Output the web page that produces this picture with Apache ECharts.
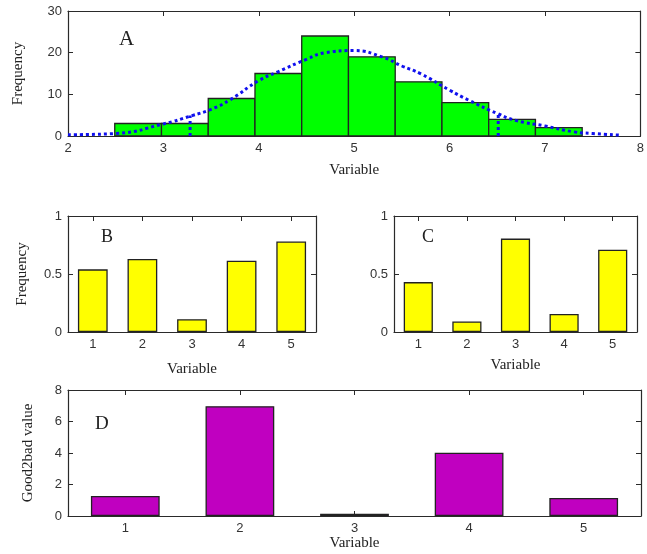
<!DOCTYPE html>
<html>
<head>
<meta charset="utf-8">
<script src="https://cdn.jsdelivr.net/npm/echarts@6/dist/echarts.min.js"></script>
<style>
  html, body { margin: 0; padding: 0; background: #fff; }
  #chart { width: 647px; height: 554px; }
</style>
</head>
<body>
<div id="chart"></div>
<script>
// panel A: histogram
const binEdges = [2.49, 2.98, 3.47, 3.96, 4.45, 4.94, 5.43, 5.92, 6.41, 6.90, 7.39]
const binCounts = [3, 3, 9, 15, 24, 19, 13, 8, 4, 2]
// fitted curve (dotted)
const curveX = [2.0, 2.5, 3.0, 3.3, 3.5, 3.7, 4.0, 4.2, 4.5, 4.7, 5.0, 5.3, 5.5, 5.7, 6.0, 6.2, 6.5, 6.7, 7.0, 7.3, 7.5, 7.8]
const curveY = [0.3, 0.6, 2.9, 4.9, 6.4, 8.7, 13.3, 15.4, 18.4, 20.0, 20.5, 18.9, 16.8, 14.9, 11.0, 8.6, 5.4, 3.7, 2.4, 1.0, 0.6, 0.2]
// vertical dotted markers
const markerX = [3.28, 6.51]
const markerY = [4.9, 5.4]

// panels B, C, D
const categories = ['1', '2', '3', '4', '5']
const valuesB = [0.54, 0.63, 0.11, 0.615, 0.78]
const valuesC = [0.43, 0.09, 0.805, 0.155, 0.71]
const valuesD = [1.27, 6.97, 0.15, 4.02, 1.14]

const serif = 'Liberation Serif'
const sans = 'Liberation Sans'
const lineColor = '#2a2a2a'

const axisBase = (gridIndex, position, withLabel) => ({
  gridIndex,
  position,
  axisLine: { show: true, onZero: false, lineStyle: { color: lineColor, width: 1.2 } },
  axisTick: { show: true, inside: true, length: 5, lineStyle: { color: lineColor } },
  axisLabel: { show: withLabel, color: '#333', fontFamily: sans, fontSize: 13, margin: 6 },
  splitLine: { show: false }
})

const valueAxis = (gridIndex, position, min, max, interval, withLabel, extra) =>
  Object.assign({ type: 'value', min, max, interval }, axisBase(gridIndex, position, withLabel), extra || {})

const catAxis = (gridIndex, position, withLabel, extra) =>
  Object.assign({ type: 'category', data: categories, boundaryGap: true },
    axisBase(gridIndex, position, withLabel),
    { axisTick: { show: true, inside: true, length: 5, alignWithLabel: true, lineStyle: { color: lineColor } } },
    extra || {})

const nameStyle = { fontFamily: serif, fontSize: 15, color: '#222' }
const xName = (gap) => ({ name: 'Variable', nameLocation: 'middle', nameGap: gap, nameTextStyle: nameStyle })
const yName = (name, gap) => ({ name, nameLocation: 'middle', nameGap: gap, nameTextStyle: nameStyle })

const letter = (text, left, top, size) => ({
  text, left, top,
  textStyle: { fontFamily: serif, fontSize: size, fontWeight: 'normal', color: '#222' }
})

const histData = binCounts.map((c, i) => [binEdges[i], binEdges[i + 1], c])
const curveData = curveX.map((x, i) => [x, curveY[i]])

const barSeries = (idx, data, color) => ({
  type: 'bar',
  xAxisIndex: idx,
  yAxisIndex: idx,
  data,
  barWidth: '60%',
  itemStyle: { color, borderColor: '#222', borderWidth: 1.3 },
  silent: true
})

const options = {
  backgroundColor: '#fff',
  animation: false,
  title: [
    letter('A', 114, 24, 21),
    letter('B', 96, 223, 18),
    letter('C', 417, 223, 18),
    letter('D', 90, 410, 19)
  ],
  grid: [
    { left: 68, top: 11, width: 573, height: 125 },
    { left: 68, top: 216, width: 248, height: 116 },
    { left: 394, top: 216, width: 243, height: 116 },
    { left: 68, top: 390, width: 573, height: 126 }
  ],
  xAxis: [
    valueAxis(0, 'bottom', 2, 8, 1, true, xName(27)),
    valueAxis(0, 'top', 2, 8, 1, false),
    catAxis(1, 'bottom', true, xName(30)),
    catAxis(1, 'top', false),
    catAxis(2, 'bottom', true, xName(26)),
    catAxis(2, 'top', false),
    catAxis(3, 'bottom', true, xName(20)),
    catAxis(3, 'top', false)
  ],
  yAxis: [
    valueAxis(0, 'left', 0, 30, 10, true, yName('Frequency', 42)),
    valueAxis(0, 'right', 0, 30, 10, false),
    valueAxis(1, 'left', 0, 1, 0.5, true, yName('Frequency', 38)),
    valueAxis(1, 'right', 0, 1, 0.5, false),
    valueAxis(2, 'left', 0, 1, 0.5, true),
    valueAxis(2, 'right', 0, 1, 0.5, false),
    valueAxis(3, 'left', 0, 8, 2, true, yName('Good2bad value', 32)),
    valueAxis(3, 'right', 0, 8, 2, false)
  ],
  series: [
    {
      // 直方图
      type: 'custom',
      xAxisIndex: 0,
      yAxisIndex: 0,
      data: histData,
      encode: { x: [0, 1], y: 2 },
      renderItem: (params, api) => {
        const p0 = api.coord([api.value(0), api.value(2)])
        const p1 = api.coord([api.value(1), 0])
        return {
          type: 'rect',
          shape: { x: p0[0], y: p0[1], width: p1[0] - p0[0], height: p1[1] - p0[1] },
          style: { fill: '#00ff00', stroke: '#222', lineWidth: 1.3 }
        }
      },
      silent: true
    },
    {
      type: 'line',
      xAxisIndex: 0,
      yAxisIndex: 0,
      data: curveData,
      smooth: true,
      symbol: 'none',
      lineStyle: { color: '#1010ee', width: 3, type: [3, 3] },
      silent: true
    },
    ...markerX.map((x, i) => ({
      type: 'line',
      xAxisIndex: 0,
      yAxisIndex: 0,
      data: [[x, 0], [x, markerY[i]]],
      symbol: 'none',
      lineStyle: { color: '#1010ee', width: 3, type: [3, 3] },
      silent: true
    })),
    barSeries(2, valuesB, '#ffff00'),
    barSeries(4, valuesC, '#ffff00'),
    barSeries(6, valuesD, '#c000c0')
  ]
}

const chartInstance = echarts.init(document.getElementById('chart'), null, { renderer: 'canvas' })
chartInstance.setOption(options)
</script>
</body>
</html>
